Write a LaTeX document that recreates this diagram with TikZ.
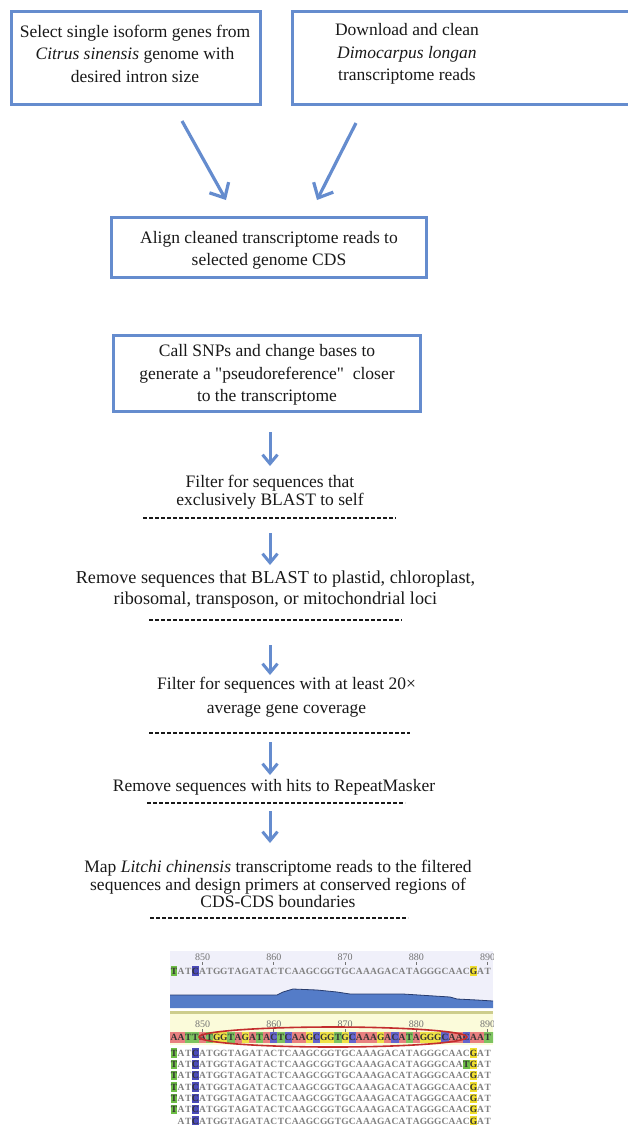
\documentclass[tikz,border=0pt]{standalone}
\usepackage{fontspec}
\setmainfont{Liberation Serif}[Ligatures=TeXOff]
\usetikzlibrary{arrows.meta}
\definecolor{flowblue}{RGB}{101,140,206}
\definecolor{txtcol}{RGB}{25,25,25}
\definecolor{lav}{RGB}{240,240,250}
\definecolor{covblue}{RGB}{84,124,200}
\definecolor{covdark}{RGB}{40,60,110}
\definecolor{olivebar}{RGB}{205,205,140}
\definecolor{paleyel}{RGB}{251,251,218}
\definecolor{colA}{RGB}{232,128,128}
\definecolor{colT}{RGB}{125,195,95}
\definecolor{colG}{RGB}{240,226,70}
\definecolor{colC}{RGB}{100,100,205}
\definecolor{hlT}{RGB}{110,190,70}
\definecolor{hlC}{RGB}{75,75,185}
\definecolor{hlG}{RGB}{240,222,45}
\definecolor{ringred}{RGB}{195,45,45}
\newcommand{\seqhl}[4]{%
  \fill[#3] ({174+#1*7.13-3.3},{#2-4.6}) rectangle ++(6.6,9.2);
  \node[readch,text=black!80] at ({174+#1*7.13},{#2+3.3}) {#4};
}
% draws one read row at centre y=#1, skipping highlighted columns (#2 = extra skipped column)
\newcommand{\readrow}[3]{%
  \foreach \c [count=\i from 0] in \readseq {
    \pgfmathtruncatemacro\skipit{(\i==3)||(\i==42)||(\i==#2)||(\i==#3)}
    \ifnum\skipit=0 \node[readch] at ({174+\i*7.13},{#1+3.3}) {\c};\fi
  }
}
\def\readseq{T,A,T,C,A,T,G,G,T,A,G,A,T,A,C,T,C,A,A,G,C,G,G,T,G,C,A,A,A,G,A,C,A,T,A,G,G,G,C,A,A,C,G,A,T}
\def\consseq{A,A,T,T,A,T,G,G,T,A,G,A,T,A,C,T,C,A,A,G,C,G,G,T,G,C,A,A,A,G,A,C,A,T,A,G,G,G,C,A,A,C,A,A,T}
\begin{document}
\begin{tikzpicture}[x=1pt,y=-1pt,
  box/.style={draw=flowblue, line width=3pt, inner sep=0pt},
  txt/.style={font=\fontsize{17.5}{22.5}\selectfont, align=center, text=txtcol, inner sep=0pt},
  varrow/.style={draw=flowblue, line width=3pt, -{Straight Barb[length=9pt,width=15pt]}},
  darrow/.style={draw=flowblue, line width=3.2pt, -{Straight Barb[length=12pt,width=22pt]}},
  dline/.style={draw=txtcol, line width=1.8pt, dash pattern=on 4pt off 2pt},
  readch/.style={font=\fontsize{9.5}{9.5}\selectfont\bfseries, text=black!50, inner sep=0pt, anchor=base},
  numf/.style={font=\fontsize{10}{10}\selectfont, text=black!55, inner sep=0pt}
]
\useasboundingbox (0,0) rectangle (628,1128);

% boxes
\node[box, minimum width=249pt, minimum height=93pt] (b1) at (136,58) {};
\node[box, minimum width=352pt, minimum height=93pt] (b2) at (468.5,58) {};
\node[box, minimum width=315pt, minimum height=60pt] (b3) at (269,247.5) {};
\node[box, minimum width=307pt, minimum height=76pt] (b4) at (267,373.5) {};

% texts
\node[txt] (t1) at (135,53.5) {Select single isoform genes from\\ \textit{Citrus sinensis} genome with\\ desired intron size};
\node[txt] (t2) at (407,54) {Download and clean\\ \textit{Dimocarpus longan}\\ transcriptome reads};
\node[txt, font=\fontsize{17.5}{22}\selectfont] (t3) at (269,250) {Align cleaned transcriptome reads to\\ selected genome CDS};
\node[txt] (t4) at (267,375) {Call SNPs and change bases to\\ generate a "pseudoreference"\ \ closer\\ to the transcriptome};
\node[txt, font=\fontsize{17.5}{17.6}\selectfont] (t5) at (270,492.5) {Filter for sequences that\\ exclusively BLAST to self};
\node[txt, font=\fontsize{18.2}{21}\selectfont] (t6) at (275.5,589.5) {Remove sequences that BLAST to plastid, chloroplast,\\ ribosomal, transposon, or mitochondrial loci};
\node[txt, font=\fontsize{17.5}{24}\selectfont] (t7) at (286.5,697) {Filter for sequences with at least 20×\\ average gene coverage};
\node[txt] (t8) at (274,787) {Remove sequences with hits to RepeatMasker};
\node[txt, font=\fontsize{17.5}{17.5}\selectfont] (t9) at (278,884) {Map \textit{Litchi chinensis} transcriptome reads to the filtered\\ sequences and design primers at conserved regions of\\ CDS-CDS boundaries};

% arrow end points
\coordinate (d1s) at (182,121); \coordinate (d1e) at (226,200);
\coordinate (d2s) at (356,123); \coordinate (d2e) at (317,200);
\coordinate (v1s) at (270,432); \coordinate (v1e) at (270,466);
\coordinate (v2s) at (270,533); \coordinate (v2e) at (270,565);
\coordinate (v3s) at (270,645); \coordinate (v3e) at (270,675);
\coordinate (v4s) at (270,742); \coordinate (v4e) at (270,775);
\coordinate (v5s) at (270,811); \coordinate (v5e) at (270,843);

\draw[darrow] (d1s) -- (d1e);
\draw[darrow] (d2s) -- (d2e);
\draw[varrow] (v1s) -- (v1e);
\draw[varrow] (v2s) -- (v2e);
\draw[varrow] (v3s) -- (v3e);
\draw[varrow] (v4s) -- (v4e);
\draw[varrow] (v5s) -- (v5e);

% dashed separators
\draw[dline] (143,518) -- (396,518);
\draw[dline] (149,620) -- (402,620);
\draw[dline] (149,733) -- (410,733);
\draw[dline] (147,803) -- (405,803);
\draw[dline] (150,918) -- (408,918);

% alignment screenshot
\begin{scope}
\clip (170,951) rectangle (493,1128);
\fill[lav] (170,951) rectangle (493,1008);
\foreach \n/\c in {850/4,860/14,870/24,880/34,890/44} {
  \node[numf] at ({174+\c*7.13},957) {\n};
  \draw[black!55, line width=0.8pt] ({174+\c*7.13},962) -- ++(0,3);
}
\readrow{971}{0}{0}
\seqhl{0}{971}{hlT}{T}
\seqhl{3}{971}{hlC}{C}
\seqhl{42}{971}{hlG}{G}
% coverage
\fill[covblue] (170,1008) -- (170,995) -- (277,995) -- (283,992) -- (293,989) -- (317,990) -- (337,992) -- (350,994) -- (403,994) -- (450,997) -- (457,999) -- (477,1000) -- (493,1001) -- (493,1008) -- cycle;
\draw[covdark, line width=0.8pt] (170,995) -- (277,995) -- (283,992) -- (293,989) -- (317,990) -- (337,992) -- (350,994) -- (403,994) -- (450,997) -- (457,999) -- (477,1000) -- (493,1001);
\fill[olivebar] (170,1011) rectangle (493,1014);
\fill[paleyel] (170,1014) rectangle (493,1045);
\foreach \n/\c in {850/4,860/14,870/24,880/34,890/44} {
  \node[numf] at ({174+\c*7.13},1024) {\n};
  \draw[black!55, line width=0.8pt] ({174+\c*7.13},1029) -- ++(0,3);
}
% consensus
\fill[colC] ({174-7.13-3.56},1032) rectangle ++(7.13,11);
\fill[colT] ({174+45*7.13-3.56},1032) rectangle ++(7.13,11);
\foreach \c [count=\i from 0] in \consseq {
  \fill[fill=col\c] ({174+\i*7.13-3.56},1032) rectangle ++(7.13,11);
  \node[readch, text=black!80] at ({174+\i*7.13},1040.8) {\c};
}
\draw[ringred, line width=1.6pt] (333,1037) ellipse [x radius=134pt, y radius=10pt];
% reads
\readrow{1053}{0}{0}
\readrow{1064.3}{0}{41}
\readrow{1075.6}{0}{0}
\readrow{1086.9}{0}{0}
\readrow{1098.2}{0}{0}
\readrow{1109.5}{0}{0}
\readrow{1120.8}{0}{0}
\foreach \r in {0,...,5} { \seqhl{0}{1053+\r*11.3}{hlT}{T} }
\foreach \r in {0,...,6} { \seqhl{3}{1053+\r*11.3}{hlC}{C} \seqhl{42}{1053+\r*11.3}{hlG}{G} }
\seqhl{41}{1064.3}{hlT}{T}
\end{scope}
\end{tikzpicture}
\end{document}
